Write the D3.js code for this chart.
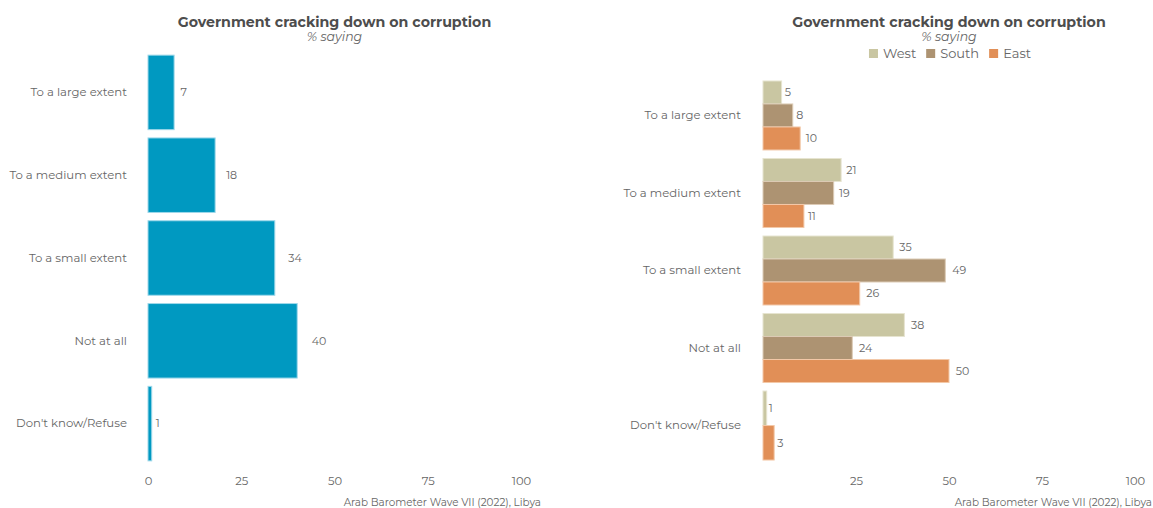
<!DOCTYPE html>
<html><head><meta charset="utf-8">
<script src="https://cdn.jsdelivr.net/npm/d3@7"></script>
<style>
body{margin:0;background:#fff;}
text{font-family:"Montserrat","Noto Sans","DejaVu Sans",sans-serif;}
</style></head>
<body><svg id="c" width="1153" height="508"></svg>
<script>
const categories = ["To a large extent","To a medium extent","To a small extent","Not at all","Don't know/Refuse"];
const overallValues = [7,18,34,40,1];
const seriesNames = ["West","South","East"];
const westValues = [5,21,35,38,1];
const southValues = [8,19,49,24,null];
const eastValues = [10,11,26,50,3];
const leftTicks = [0,25,50,75,100];
const rightTicks = [25,50,75,100];
const titleText = "Government cracking down on corruption";
const subtitleText = "% saying";
const captionText = "Arab Barometer Wave VII (2022), Libya";

const colors = {overall:"#0099C1", West:"#C9C6A2", South:"#AD9372", East:"#E18F57"};
const strokes = {overall:"#9fd8ea", West:"#e6e4d0", South:"#dccbb5", East:"#f3c8a8"};
const grey = "#666";
const svg = d3.select("#c");

function panelTitle(cx){
  svg.append("text").attr("x",cx).attr("y",27).attr("text-anchor","middle")
    .attr("font-size",14.2).attr("font-weight","bold").attr("fill","#4d4d4d").text(titleText);
  svg.append("text").attr("x",cx).attr("y",41).attr("text-anchor","middle")
    .attr("font-size",12.5).attr("font-style","italic").attr("fill","#666").text(subtitleText);
}
function axisX(x, ticks, y){
  const g = svg.append("g").attr("transform",`translate(0,${y})`)
    .call(d3.axisBottom(x).tickValues(ticks).tickSize(0).tickPadding(0));
  g.select(".domain").remove();
  g.selectAll("text").attr("font-size",11.5).attr("fill",grey).attr("font-family","Montserrat, Noto Sans, DejaVu Sans, sans-serif");
}
function axisY(y, xpos){
  const g = svg.append("g").attr("transform",`translate(${xpos},0)`)
    .call(d3.axisLeft(y).tickSize(0).tickPadding(0));
  g.select(".domain").remove();
  g.selectAll("text").attr("font-size",11.7).attr("fill",grey).attr("font-family","Montserrat, Noto Sans, DejaVu Sans, sans-serif");
}

// LEFT PANEL
const xL = d3.scaleLinear().domain([0,100]).range([148,521]);
const yL = d3.scaleBand().domain(categories).range([51,465]).paddingInner(0.1).paddingOuter(0.05);
panelTitle(334.5);
svg.append("g").selectAll("rect").data(categories).join("rect")
  .attr("x",xL(0)).attr("y",d=>yL(d)).attr("width",(d,i)=>xL(overallValues[i])-xL(0))
  .attr("height",yL.bandwidth()).attr("fill",colors.overall).attr("stroke",strokes.overall).attr("stroke-width",1);
const lblL = svg.append("g").selectAll("text").data(categories).join("text")
  .attr("y",d=>yL(d)+yL.bandwidth()/2).attr("dy","0.35em")
  .attr("font-size",11).attr("fill",grey).text((d,i)=>overallValues[i]);
lblL.each(function(d,i){ const w=this.getComputedTextLength(); d3.select(this).attr("x",xL(overallValues[i])+w*1.0); });
axisY(yL,127);
axisX(xL,leftTicks,477);
svg.append("text").attr("x",541).attr("y",506).attr("text-anchor","end").attr("font-size",10.4).attr("fill",grey).text(captionText);

// RIGHT PANEL
const xR = d3.scaleLinear().domain([0,100]).range([763,1135]);
const yR = d3.scaleBand().domain(categories).range([77.1,463.9]).paddingInner(0.11).paddingOuter(0.05);
panelTitle(949);
const seriesVals = {West:westValues, South:southValues, East:eastValues};
const bars = [];
categories.forEach((c,i)=>{
  const present = seriesNames.filter(s=>seriesVals[s][i]!=null);
  const inner = d3.scaleBand().domain(present).range([0,yR.bandwidth()]);
  present.forEach(s=>bars.push({c,s,v:seriesVals[s][i],y:yR(c)+inner(s),h:inner.bandwidth()}));
});
svg.append("g").selectAll("rect").data(bars).join("rect")
  .attr("x",xR(0)).attr("y",d=>d.y).attr("width",d=>xR(d.v)-xR(0)).attr("height",d=>d.h)
  .attr("fill",d=>colors[d.s]).attr("stroke",d=>strokes[d.s]).attr("stroke-width",1);
const lblR = svg.append("g").selectAll("text").data(bars).join("text")
  .attr("y",d=>d.y+d.h/2).attr("dy","0.35em").attr("font-size",11).attr("fill",grey).text(d=>d.v);
lblR.each(function(d){ const w=this.getComputedTextLength(); d3.select(this).attr("x",xR(d.v)+w*0.5); });
axisY(yR,741);
axisX(xR,rightTicks,477);
svg.append("text").attr("x",1152).attr("y",506).attr("text-anchor","end").attr("font-size",10.4).attr("fill",grey).text(captionText);

// legend (centered on the right panel)
const leg = svg.append("g");
let lx = 0;
seriesNames.forEach((s,i)=>{
  const g = leg.append("g").attr("transform",`translate(${lx},0)`);
  g.append("rect").attr("x",0).attr("y",49).attr("width",9).attr("height",9).attr("fill",colors[s]);
  const t = g.append("text").attr("x",14).attr("y",53.5).attr("dy","0.35em").attr("font-size",13).attr("fill",grey).text(s);
  lx += 14 + t.node().getComputedTextLength() + 10;
});
const legW = lx - 10;
leg.attr("transform",`translate(${950 - legW/2},0)`);
</script></body></html>
